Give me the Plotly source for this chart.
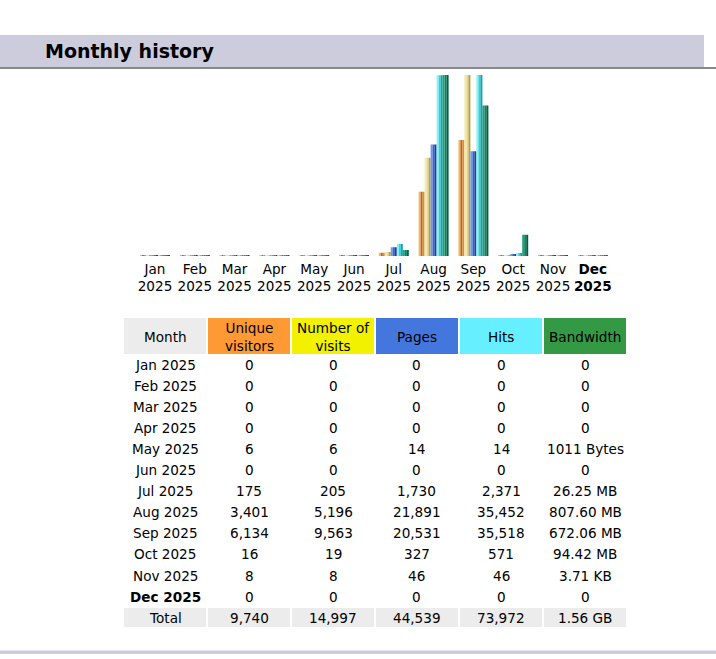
import plotly.graph_objects as go

W, H = 716, 659

months = ["Jan", "Feb", "Mar", "Apr", "May", "Jun", "Jul", "Aug", "Sep", "Oct", "Nov", "Dec"]
year = "2025"
visitors = [0, 0, 0, 0, 6, 0, 175, 3401, 6134, 16, 8, 0]
visits = [0, 0, 0, 0, 6, 0, 205, 5196, 9563, 19, 8, 0]
pages = [0, 0, 0, 0, 14, 0, 1730, 21891, 20531, 327, 46, 0]
hits = [0, 0, 0, 0, 14, 0, 2371, 35452, 35518, 571, 46, 0]
bandwidth_mb = [0, 0, 0, 0, 0.00096, 0, 26.25, 807.60, 672.06, 94.42, 0.00362, 0]
bandwidth_labels = ["0", "0", "0", "0", "1011 Bytes", "0", "26.25 MB", "807.60 MB",
                    "672.06 MB", "94.42 MB", "3.71 KB", "0"]
totals = ["9,740", "14,997", "44,539", "73,972", "1.56 GB"]
headers = ["Month", "Unique<br>visitors", "Number of<br>visits", "Pages", "Hits", "Bandwidth"]
header_colors = ["#ECECEC", "#FF9933", "#F2F200", "#4477DD", "#66F0FF", "#339944"]
current_month = 11

FONT = "DejaVu Sans, Verdana, sans-serif"
FS = 13.6


def px(x):
    return x / W


def py(y):
    return 1 - y / H


# ---------- bars ----------
# AWStats scaling: visitors & visits share max(visits); pages & hits share max(hits)
mv = max(visits)
mh = max(hits)
mb = max(bandwidth_mb)
bar_px = 181.0
minh = 1.0 / bar_px


def norm(vals, m):
    return [max(v / m, minh) for v in vals]


series = [
    (norm(visitors, mv), ["#F2B868", "#B86818", "#DE8C30"]),
    (norm(visits, mv), ["#F4EAA8", "#E6D888", "#B8A048"]),
    (norm(pages, mh), ["#6C98EC", "#3464D4", "#1A3C9C"]),
    (norm(hits, mh), ["#88F4F4", "#30D4D8", "#10A4B0"]),
    (norm(bandwidth_mb, mb), ["#22A07C", "#0C8460", "#006040"]),
]

unit_px = 39.8
stripe = 2.0 / unit_px
x_idx = list(range(len(months)))

fig = go.Figure()
for s, (vals, cols) in enumerate(series):
    for k, c in enumerate(cols):
        off = (-15 + s * 6 + k * 2) / unit_px
        fig.add_trace(go.Bar(
            x=x_idx, y=vals, width=stripe, offset=off,
            marker=dict(color=c, line=dict(width=0)),
            showlegend=False, hoverinfo="skip",
        ))

ticktext = []
for i, m in enumerate(months):
    t = f"{m}<br>{year}"
    if i == current_month:
        t = f"<b>{t}</b>"
    ticktext.append(t)

x0 = 155 - unit_px / 2
x1 = x0 + unit_px * 12
fig.update_layout(
    barmode="overlay",
    width=W, height=H,
    margin=dict(l=0, r=0, t=0, b=0),
    paper_bgcolor="white", plot_bgcolor="white",
    font=dict(family=FONT, size=FS, color="black"),
    xaxis=dict(domain=[px(x0), px(x1)], range=[-0.5, 11.5], showgrid=False,
               zeroline=False, showline=False, ticks="", ticklabelstandoff=3,
               tickvals=x_idx, ticktext=ticktext,
               tickfont=dict(family=FONT, size=FS, color="black")),
    yaxis=dict(domain=[py(256), py(75)], range=[0, 1], visible=False),
)

# ---------- header band ----------
shapes = []
shapes.append(dict(type="rect", xref="paper", yref="paper", x0=0, x1=px(704),
                   y0=py(67), y1=py(35), fillcolor="#CCCCDD", line=dict(width=0), layer="below"))
shapes.append(dict(type="rect", xref="paper", yref="paper", x0=0, x1=1,
                   y0=py(69), y1=py(67), fillcolor="#888888", line=dict(width=0), layer="below"))
# bottom line
shapes.append(dict(type="rect", xref="paper", yref="paper", x0=0, x1=1,
                   y0=py(651), y1=py(650), fillcolor="#E4E4EC", line=dict(width=0), layer="below"))
shapes.append(dict(type="rect", xref="paper", yref="paper", x0=0, x1=1,
                   y0=py(654), y1=py(651), fillcolor="#CCCCDD", line=dict(width=0), layer="below"))

annotations = []
annotations.append(dict(text="<b>Monthly history</b>", xref="paper", yref="paper",
                        x=px(43), y=py(51), xanchor="left", yanchor="middle",
                        showarrow=False, font=dict(family=FONT, size=19, color="black")))

# ---------- table ----------
col_x0 = [124, 208, 292, 376, 460, 544]
col_w = 82
col_cx = [c + col_w / 2 for c in col_x0]

for j, (h, c) in enumerate(zip(headers, header_colors)):
    shapes.append(dict(type="rect", xref="paper", yref="paper",
                       x0=px(col_x0[j]), x1=px(col_x0[j] + col_w),
                       y0=py(354), y1=py(318), fillcolor=c, line=dict(width=0), layer="below"))
    annotations.append(dict(text=h, xref="paper", yref="paper", x=px(col_cx[j]), y=py(336.5),
                            xanchor="center", yanchor="middle", showarrow=False,
                            font=dict(family=FONT, size=FS, color="black")))


def fmt(v):
    return f"{v:,}"


row_y0 = 365
row_h = 21.05
for i, m in enumerate(months):
    yc = row_y0 + i * row_h
    cells = [f"{m} {year}", fmt(visitors[i]), fmt(visits[i]), fmt(pages[i]), fmt(hits[i]),
             bandwidth_labels[i]]
    for j, t in enumerate(cells):
        if i == current_month and j == 0:
            t = f"<b>{t}</b>"
        annotations.append(dict(text=t, xref="paper", yref="paper", x=px(col_cx[j]), y=py(yc),
                                xanchor="center", yanchor="middle", showarrow=False,
                                font=dict(family=FONT, size=FS, color="black")))

ty = 617.5
for j, t in enumerate(["Total"] + totals):
    shapes.append(dict(type="rect", xref="paper", yref="paper",
                       x0=px(col_x0[j]), x1=px(col_x0[j] + col_w),
                       y0=py(627), y1=py(608), fillcolor="#ECECEC", line=dict(width=0), layer="below"))
    annotations.append(dict(text=t, xref="paper", yref="paper", x=px(col_cx[j]), y=py(ty),
                            xanchor="center", yanchor="middle", showarrow=False,
                            font=dict(family=FONT, size=FS, color="black")))

fig.update_layout(shapes=shapes, annotations=annotations)
fig.write_html("out.html")
